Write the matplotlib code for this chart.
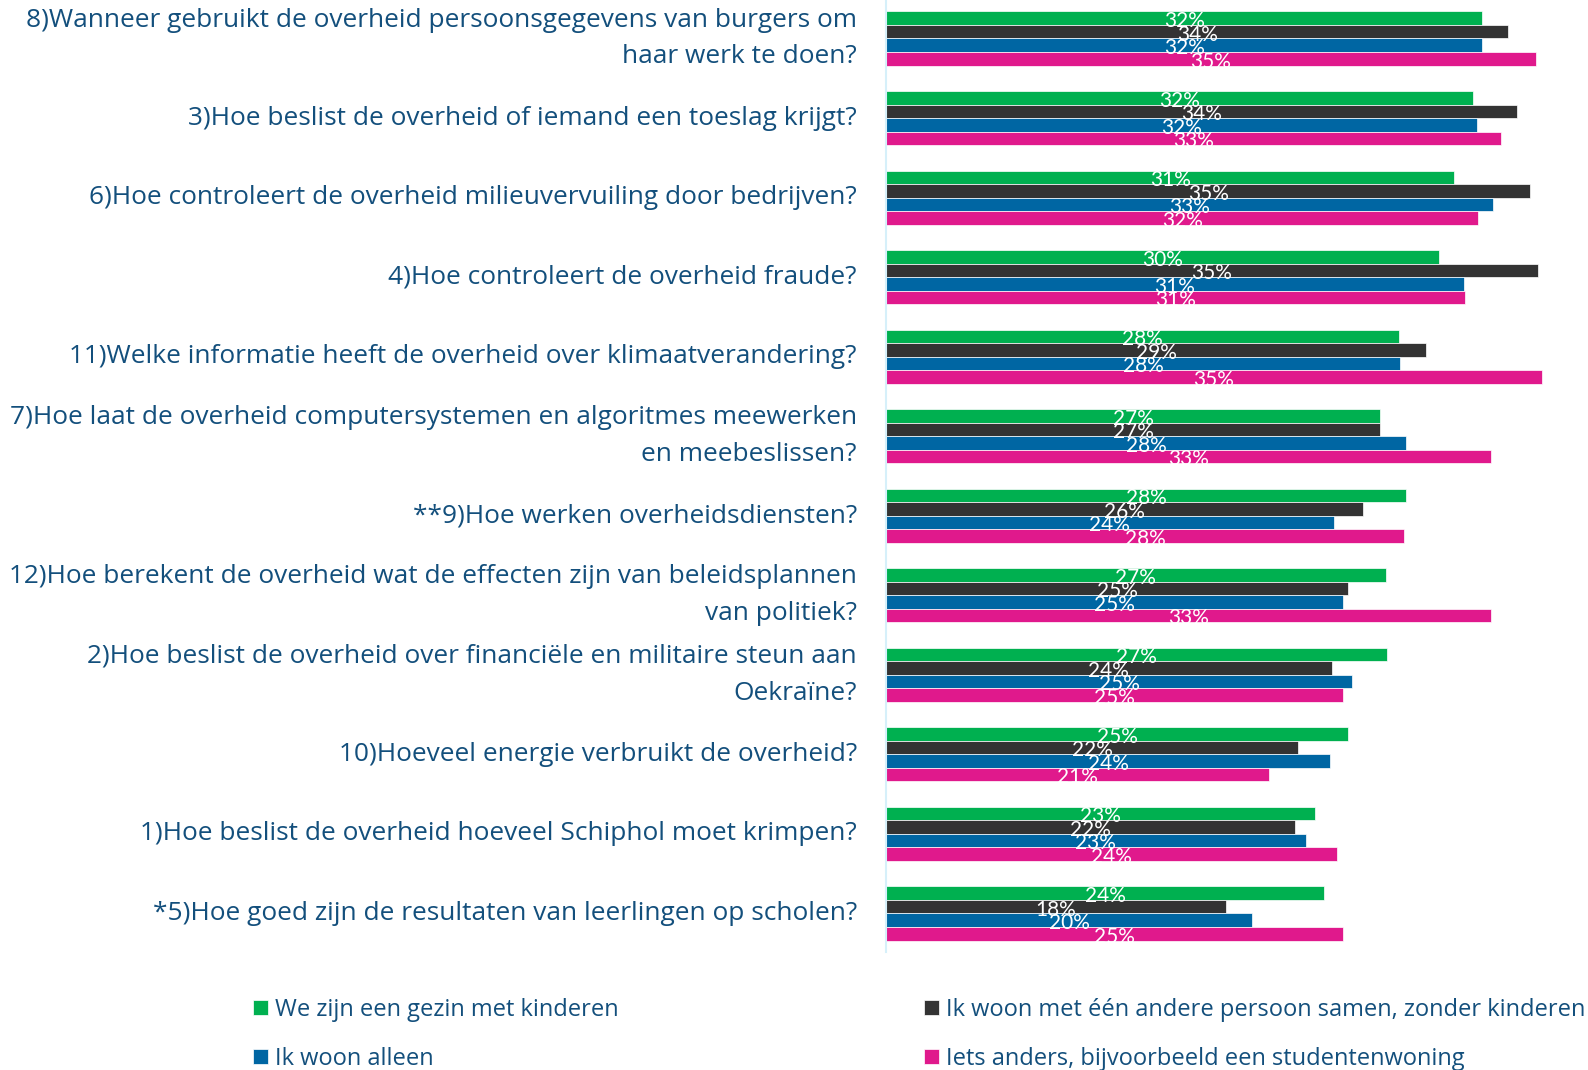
import matplotlib
matplotlib.use("Agg")
import matplotlib.pyplot as plt
import numpy as np

# categories, top to bottom
categories = [
    "8)Wanneer gebruikt de overheid persoonsgegevens van burgers om\nhaar werk te doen?",
    "3)Hoe beslist de overheid of iemand een toeslag krijgt?",
    "6)Hoe controleert de overheid milieuvervuiling door bedrijven?",
    "4)Hoe controleert de overheid fraude?",
    "11)Welke informatie heeft de overheid over klimaatverandering?",
    "7)Hoe laat de overheid computersystemen en algoritmes meewerken\nen meebeslissen?",
    "**9)Hoe werken overheidsdiensten?",
    "12)Hoe berekent de overheid wat de effecten zijn van beleidsplannen\nvan politiek?",
    "2)Hoe beslist de overheid over financiële en militaire steun aan\nOekraïne?",
    "10)Hoeveel energie verbruikt de overheid?",
    "1)Hoe beslist de overheid hoeveel Schiphol moet krimpen?",
    "*5)Hoe goed zijn de resultaten van leerlingen op scholen?",
]

series_names = [
    "We zijn een gezin met kinderen",
    "Ik woon met één andere persoon samen, zonder kinderen",
    "Ik woon alleen",
    "Iets anders, bijvoorbeeld een studentenwoning",
]

gezin = [32.1, 31.6, 30.6, 29.8, 27.6, 26.6, 28.0, 26.9, 27.0, 24.9, 23.1, 23.6]
samen = [33.5, 34.0, 34.7, 35.1, 29.1, 26.6, 25.7, 24.9, 24.0, 22.2, 22.0, 18.3]
alleen = [32.1, 31.8, 32.7, 31.1, 27.7, 28.0, 24.1, 24.6, 25.1, 23.9, 22.6, 19.7]
anders = [35.0, 33.1, 31.9, 31.2, 35.3, 32.6, 27.9, 32.6, 24.6, 20.6, 24.3, 24.6]

colors = ["#00B050", "#333333", "#0066A3", "#E0198C"]
text_color = "#134F7C"

plt.rcParams['font.family'] = ['Open Sans', 'DejaVu Sans']

fig = plt.figure(figsize=(15.88, 10.70), dpi=100)
ax = fig.add_axes([0.558, 0.1103, 0.442, 0.8897])

y = np.arange(len(categories))
h = 0.17
all_series = [gezin, samen, alleen, anders]
containers = []
for i, (vals, col) in enumerate(zip(all_series, colors)):
    bars = ax.barh(y + (i - 1.5) * h, vals, height=h, color=col,
                   edgecolor="white", linewidth=0.5)
    containers.append(bars)
    for rect, v in zip(bars, vals):
        ax.text(rect.get_width() / 2, rect.get_y() + rect.get_height() / 2 + 0.035,
                f"{v:.0f}%", ha="center", va="center", color="white",
                fontsize=15, family=['Liberation Sans Narrow', 'Lato'])

ax.set_xlim(0, 37.8)
ax.set_ylim(11.484, -0.484)
ax.set_yticks(y)
ax.set_yticklabels(categories, fontsize=18.9, color=text_color, linespacing=1.62,
                   va="center")
ax.tick_params(axis="y", length=0, pad=21)
ax.set_xticks([])
for s in ["top", "right", "bottom"]:
    ax.spines[s].set_visible(False)
ax.spines["left"].set_color("#D6F0FA")
ax.spines["left"].set_linewidth(1.5)

# legend, two columns placed separately
leg_kw = dict(frameon=False, fontsize=17, labelcolor=text_color, loc="upper left",
              borderpad=0, borderaxespad=0, handlelength=0.62, handleheight=0.62,
              handletextpad=0.3, labelspacing=1.05)
fig.legend([containers[0], containers[2]], [series_names[0], series_names[2]],
           bbox_to_anchor=(253 / 1588, 1 - 998 / 1070), **leg_kw)
fig.legend([containers[1], containers[3]], [series_names[1], series_names[3]],
           bbox_to_anchor=(924 / 1588, 1 - 998 / 1070), **leg_kw)

fig.savefig("out.png", dpi=100)
